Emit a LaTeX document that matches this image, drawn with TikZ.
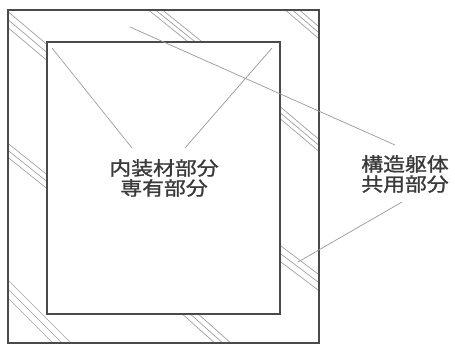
\documentclass[tikz,border=0pt]{standalone}
\usepackage{fontspec}
\newfontfamily\jpfont[FakeStretch=1.15,FakeBold=1.2]{Noto Sans CJK JP}
\definecolor{framecol}{HTML}{4A4A4A}
\definecolor{hatchcol}{HTML}{A0A0A0}
\definecolor{leadcol}{HTML}{999999}
\definecolor{textcol}{HTML}{3A3A3A}
\begin{document}
\begin{tikzpicture}[x=1pt,y=-1pt,
  wall/.style={draw=framecol,line width=1.8pt},
  hatch/.style={draw=hatchcol,line width=0.7pt},
  leader/.style={draw=leadcol,line width=0.7pt},
  label/.style={text=textcol,font=\jpfont\fontsize{19}{20}\selectfont,align=center,inner sep=0pt}]
\useasboundingbox[fill=white] (0,0) rectangle (455,345);
% hatching in the band between the two rectangles
\begin{scope}[even odd rule]
  \clip (8,10) rectangle (319,343) (47,42) rectangle (280,314);
  % top-left corner
  \foreach \d in {0,8,16} \draw[hatch] (6,10+\d) -- (50,47+\d);
  % top middle
  \foreach \d in {0,7,14} \draw[hatch] (146+\d,8) -- (192+\d,45);
  % top-right corner
  \foreach \d in {0,7,14} \draw[hatch] (283+\d,8) -- (325+\d,44);
  % left middle
  \foreach \d in {0,7,14} \draw[hatch] (5,141+\d) -- (50,177+\d);
  % bottom-left corner
  \foreach \d in {0,9,18} \draw[hatch] (5,277+\d) -- (75-\d,347);
  % bottom middle
  \foreach \d in {0,8,16} \draw[hatch] (180+\d,312) -- (217+\d,345);
  % right middle
  \foreach \d in {0,6,12} \draw[hatch] (277,104+\d) -- (322,142+\d);
  % right lower
  \foreach \d in {0,8,16} \draw[hatch] (277,243+\d) -- (322,277+\d);
\end{scope}
% rectangles
\draw[wall] (8,10) rectangle (319,343);
\draw[wall] (47,42) rectangle (280,314);
% labels
\node[label] (own) at (164,178) {内装材部分\\専有部分};
\node[label] (common) at (405,174) {構造躯体\\共用部分};
% leader ends
\coordinate (o1) at (52,48);
\coordinate (o2) at (272,48);
\coordinate (o1e) at (132,148);
\coordinate (o2e) at (185,148);
\coordinate (c1) at (130,27);
\coordinate (c2) at (298,262);
\coordinate (c1e) at (395,145);
\coordinate (c2e) at (402,202);
\draw[leader] (o1e) -- (o1);
\draw[leader] (o2e) -- (o2);
\draw[leader] (c1e) -- (c1);
\draw[leader] (c2e) -- (c2);
\end{tikzpicture}
\end{document}
